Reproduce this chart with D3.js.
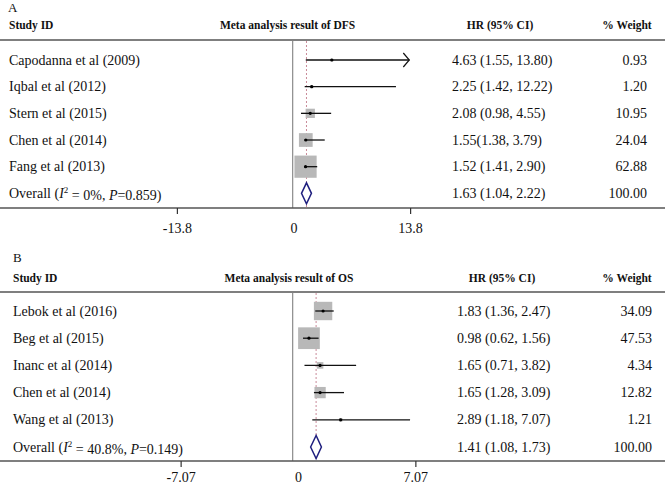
<!DOCTYPE html>
<html>
<head>
<meta charset="utf-8">
<script src="https://cdn.jsdelivr.net/npm/d3@7"></script>
<style>
  html, body { margin: 0; padding: 0; background: #fff; }
  svg { display: block; font-family: "Liberation Serif", "Times New Roman", serif; }
</style>
</head>
<body>
<svg id="chart" width="665" height="486"></svg>
<script>
// ---------------- DATA ----------------
// Panel A: DFS
const studiesA = ["Capodanna et al (2009)", "Iqbal et al (2012)", "Stern et al (2015)", "Chen et al (2014)", "Fang et al (2013)"];
const hrA      = [4.63, 2.25, 2.08, 1.55, 1.52];
const loA      = [1.55, 1.42, 0.98, 1.38, 1.41];
const hiA      = [13.80, 12.22, 4.55, 3.79, 2.90];
const weightA  = [0.93, 1.20, 10.95, 24.04, 62.88];
const ciTextA  = ["4.63 (1.55, 13.80)", "2.25 (1.42, 12.22)", "2.08 (0.98, 4.55)", "1.55(1.38, 3.79)", "1.52 (1.41, 2.90)"];
const wtTextA  = ["0.93", "1.20", "10.95", "24.04", "62.88"];
const arrowA   = [true, false, false, false, false];
const overallA = [1.63, 1.04, 2.22];          // HR, lo, hi
const overallTextA = ["1.63 (1.04, 2.22)", "100.00"];
const overallStatsA = ["0%", "0.859"];          // I², P
const ticksA = [-13.8, 0, 13.8];
const tickLabelsA = ["-13.8", "0", "13.8"];

// Panel B: OS
const studiesB = ["Lebok et al (2016)", "Beg et al (2015)", "Inanc et al (2014)", "Chen et al (2014)", "Wang et al (2013)"];
const hrB      = [1.83, 0.98, 1.65, 1.65, 2.89];
const loB      = [1.36, 0.62, 0.71, 1.28, 1.18];
const hiB      = [2.47, 1.56, 3.82, 3.09, 7.07];
const weightB  = [34.09, 47.53, 4.34, 12.82, 1.21];
const ciTextB  = ["1.83 (1.36, 2.47)", "0.98 (0.62, 1.56)", "1.65 (0.71, 3.82)", "1.65 (1.28, 3.09)", "2.89 (1.18, 7.07)"];
const wtTextB  = ["34.09", "47.53", "4.34", "12.82", "1.21"];
const arrowB   = [false, false, false, false, false];
const overallB = [1.41, 1.08, 1.73];
const overallTextB = ["1.41 (1.08, 1.73)", "100.00"];
const overallStatsB = ["40.8%", "0.149"];
const ticksB = [-7.07, 0, 7.07];
const tickLabelsB = ["-7.07", "0", "7.07"];

const headers = ["Study ID", "HR (95% CI)", "% Weight"];
const titles  = ["Meta analysis result of DFS", "Meta analysis result of OS"];
const letters = ["A", "B"];

// ---------------- LAYOUT ----------------
const W = 665;
const layouts = [
  { letterX: 8, letterY: 7, headY: 25, headLineY: 40, row0: 60, rowStep: 26.67, axisY: 208,
    zeroX: 292.7, pxPerUnit: 8.45, axisShift: 0.8, tickPad: 9, textX: 9, ciX: 452, wtX: 647,
    hrHeadX: 500, wtHeadX: 627, titleX: 287.5, boxK: 2.8, diamondH: 10.5 },
  { letterX: 13, letterY: 257, headY: 278, headLineY: 292, row0: 311, rowStep: 27.2, axisY: 461,
    zeroX: 292.7, pxPerUnit: 16.6, axisShift: 5.3, tickPad: 5, textX: 13, ciX: 457, wtX: 652,
    hrHeadX: 502, wtHeadX: 627, titleX: 289, boxK: 3.15, diamondH: 11.5 }
];

const panels = [
  { studies: studiesA, hr: hrA, lo: loA, hi: hiA, w: weightA, ci: ciTextA, wt: wtTextA, arrow: arrowA,
    overall: overallA, overallText: overallTextA, stats: overallStatsA, ticks: ticksA, tickLabels: tickLabelsA },
  { studies: studiesB, hr: hrB, lo: loB, hi: hiB, w: weightB, ci: ciTextB, wt: wtTextB, arrow: arrowB,
    overall: overallB, overallText: overallTextB, stats: overallStatsB, ticks: ticksB, tickLabels: tickLabelsB }
];

const svg = d3.select("#chart");

panels.forEach((p, pi) => {
  const L = layouts[pi];
  const g = svg.append("g");
  const max = p.ticks[p.ticks.length - 1];

  const x = d3.scaleLinear().domain([-max, max])
    .range([L.zeroX - max * L.pxPerUnit, L.zeroX + max * L.pxPerUnit]);
  const y = d3.scaleLinear().domain([0, 1]).range([L.row0, L.row0 + L.rowStep]);

  // panel letter
  g.append("text").attr("x", L.letterX).attr("y", L.letterY).attr("dy", "0.35em")
    .attr("font-size", 13).attr("fill", "#111").text(letters[pi]);

  // headers
  const hdr = g.append("g").attr("font-weight", "bold").attr("font-size", 11.5).attr("fill", "#111");
  hdr.append("text").attr("x", L.textX).attr("y", L.headY).attr("dy", "0.35em").text(headers[0]);
  hdr.append("text").attr("x", L.titleX).attr("y", L.headY).attr("dy", "0.35em").attr("text-anchor", "middle").text(titles[pi]);
  hdr.append("text").attr("x", L.hrHeadX).attr("y", L.headY).attr("dy", "0.35em").attr("text-anchor", "middle").text(headers[1]);
  hdr.append("text").attr("x", L.wtHeadX).attr("y", L.headY).attr("dy", "0.35em").attr("text-anchor", "middle").text(headers[2]);

  // header line
  g.append("line").attr("x1", 0).attr("x2", W).attr("y1", L.headLineY).attr("y2", L.headLineY)
    .attr("stroke", "#555").attr("stroke-width", 1.6);

  // vertical zero line
  g.append("line").attr("x1", x(0)).attr("x2", x(0)).attr("y1", L.headLineY).attr("y2", L.axisY)
    .attr("stroke", "#808080").attr("stroke-width", 1.1);

  // dotted overall line
  g.append("line").attr("x1", x(p.overall[0])).attr("x2", x(p.overall[0]))
    .attr("y1", L.headLineY + 1).attr("y2", L.axisY)
    .attr("stroke", "#c98a99").attr("stroke-width", 1).attr("stroke-dasharray", "2,2");

  // study rows
  const rows = g.selectAll(".row").data(p.studies.map((s, i) => i)).join("g").attr("class", "row");

  // boxes
  rows.append("rect")
    .attr("x", i => x(p.hr[i]) - L.boxK * Math.sqrt(p.w[i]) / 2)
    .attr("y", i => y(i) - L.boxK * Math.sqrt(p.w[i]) / 2)
    .attr("width", i => L.boxK * Math.sqrt(p.w[i]))
    .attr("height", i => L.boxK * Math.sqrt(p.w[i]))
    .attr("fill", "#b8b8b8");

  // CI lines
  rows.append("line")
    .attr("x1", i => x(p.lo[i])).attr("x2", i => x(Math.min(p.hi[i], max)))
    .attr("y1", i => y(i)).attr("y2", i => y(i))
    .attr("stroke", "#111").attr("stroke-width", 1.3);

  // arrows
  rows.filter(i => p.arrow[i]).append("path")
    .attr("d", i => {
      const xe = x(Math.min(p.hi[i], max)), yy = y(i);
      return `M${xe - 6},${yy - 7}L${xe},${yy}L${xe - 6},${yy + 7}`;
    })
    .attr("fill", "none").attr("stroke", "#111").attr("stroke-width", 1.2);

  // points
  rows.append("circle")
    .attr("cx", i => x(p.hr[i])).attr("cy", i => y(i)).attr("r", 1.6).attr("fill", "#000");

  // row texts
  const tx = g.append("g").attr("font-size", 14).attr("fill", "#111");
  tx.selectAll(".lbl").data(p.studies).join("text")
    .attr("x", L.textX).attr("y", (d, i) => y(i)).attr("dy", "0.33em").text(d => d);
  tx.selectAll(".ci").data(p.ci).join("text")
    .attr("x", L.ciX).attr("y", (d, i) => y(i)).attr("dy", "0.33em").text(d => d);
  tx.selectAll(".wt").data(p.wt).join("text")
    .attr("x", L.wtX).attr("y", (d, i) => y(i)).attr("dy", "0.33em").attr("text-anchor", "end").text(d => d);

  // overall row
  const oi = p.studies.length;
  const yo = y(oi);
  const ov = tx.append("text").attr("x", L.textX).attr("y", yo).attr("dy", "0.33em");
  ov.append("tspan").text("Overall (");
  ov.append("tspan").attr("font-style", "italic").text("I");
  ov.append("tspan").attr("font-size", 9).attr("dy", "-0.5em").text("2");
  ov.append("tspan").attr("dy", "0.5em").text(" = " + p.stats[0] + ", ");
  ov.append("tspan").attr("font-style", "italic").text("P");
  ov.append("tspan").text("=" + p.stats[1] + ")");
  tx.append("text").attr("x", L.ciX).attr("y", yo).attr("dy", "0.33em").text(p.overallText[0]);
  tx.append("text").attr("x", L.wtX).attr("y", yo).attr("dy", "0.33em").attr("text-anchor", "end").text(p.overallText[1]);

  // diamond
  g.append("path")
    .attr("d", `M${x(p.overall[1])},${yo}L${x(p.overall[0])},${yo - L.diamondH}L${x(p.overall[2])},${yo}L${x(p.overall[0])},${yo + L.diamondH}Z`)
    .attr("fill", "#fff").attr("stroke", "#1f1f7f").attr("stroke-width", 1.5);

  // axis line (full width)
  g.append("line").attr("x1", 0).attr("x2", W).attr("y1", L.axisY).attr("y2", L.axisY)
    .attr("stroke", "#555").attr("stroke-width", 1.6);

  // axis ticks
  const axis = d3.axisBottom(x).tickValues(p.ticks)
    .tickFormat((d, i) => p.tickLabels[i]).tickSize(6).tickPadding(L.tickPad);
  const ag = g.append("g").attr("transform", `translate(${L.axisShift},${L.axisY})`).call(axis);
  ag.select(".domain").remove();
  ag.selectAll(".tick line").attr("stroke", "#333").attr("stroke-width", 1.2)
    .attr("display", d => d === 0 ? "none" : null);
  ag.selectAll(".tick text").attr("font-size", 14).attr("fill", "#111")
    .attr("font-family", "'Liberation Serif', 'Times New Roman', serif");
});
</script>
</body>
</html>
